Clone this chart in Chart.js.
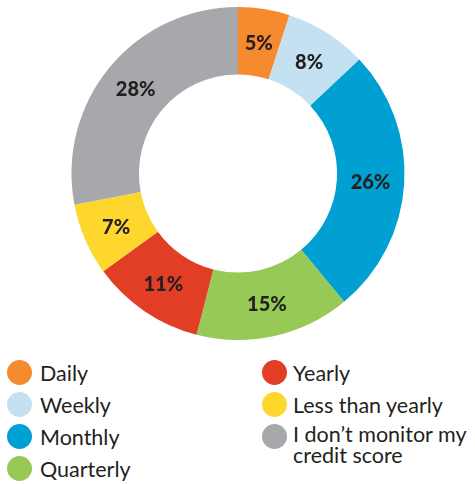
<!DOCTYPE html>
<html>
<head>
<meta charset="utf-8">
<script src="https://cdn.jsdelivr.net/npm/chart.js@4"></script>
<style>
  body { margin: 0; background: #fff; font-family: 'Lato', sans-serif; color: #231F20; }
  #wrap { position: relative; width: 475px; height: 347px; }
  .legend { position: absolute; top: 360px; font-size: 21.5px; }
  .legend div { position: relative; height: 32px; line-height: 26px; padding-left: 33px; white-space: nowrap; }
  .legend span.dot { position: absolute; left: 0; top: 0; width: 25px; height: 25px; border-radius: 50%; }
  .legend div.two { line-height: 21px; height: 44px; }
  #legRight div { padding-left: 31px; }
</style>
</head>
<body>
<div id="wrap"><canvas id="donut"></canvas></div>
<div class="legend" id="legLeft" style="left:7px"></div>
<div class="legend" id="legRight" style="left:262px"></div>
<script>
const categories = ['Daily', 'Weekly', 'Monthly', 'Quarterly', 'Yearly', 'Less than yearly', "I don't monitor my credit score"];
const shares = [5, 8, 26, 15, 11, 7, 28];
const colors = ['#F58A2E', '#C3E1F0', '#00A1D2', '#96C955', '#E23E26', '#FED72E', '#A7A8AB'];

// percentages written in the middle of each ring segment
const sliceLabels = {
  id: 'sliceLabels',
  afterDatasetsDraw(chart) {
    const ctx = chart.ctx;
    const meta = chart.getDatasetMeta(0);
    ctx.save();
    ctx.font = '900 20px Lato';
    ctx.fillStyle = '#231F20';
    ctx.textAlign = 'center';
    ctx.textBaseline = 'middle';
    meta.data.forEach((arc, i) => {
      const p = arc.getCenterPoint();
      ctx.fillText(shares[i] + '%', p.x, p.y + 1);
    });
    ctx.restore();
  }
};

new Chart(document.getElementById('donut'), {
  type: 'doughnut',
  data: {
    labels: categories,
    datasets: [{
      data: shares,
      backgroundColor: colors,
      borderWidth: 0,
    }],
  },
  options: {
    responsive: true,
    maintainAspectRatio: false,
    animation: false,
    cutout: '59.5%',
    layout: { padding: { top: 7, bottom: 7, left: 1 } },
    plugins: {
      legend: { display: false },
      tooltip: { enabled: false },
    },
  },
  plugins: [sliceLabels],
});

// two column legend below the ring
const legendText = ['Daily', 'Weekly', 'Monthly', 'Quarterly', 'Yearly', 'Less than yearly', "I don\u2019t monitor my<br>credit score"];
legendText.forEach((txt, i) => {
  const row = document.createElement('div');
  if (i === 6) row.className = 'two';
  row.innerHTML = '<span class="dot" style="background:' + colors[i] + '"></span>' + txt;
  document.getElementById(i < 4 ? 'legLeft' : 'legRight').appendChild(row);
});
</script>
</body>
</html>
